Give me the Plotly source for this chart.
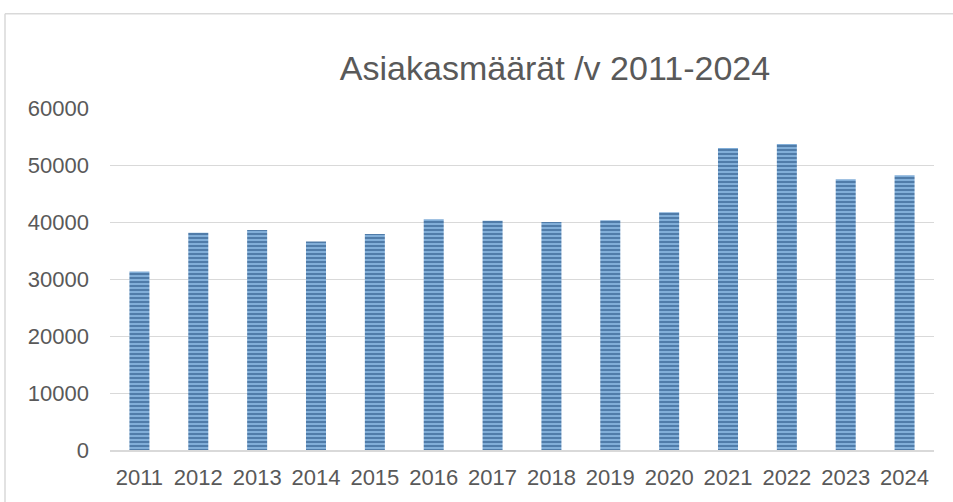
import plotly.graph_objects as go

years = ["2011", "2012", "2013", "2014", "2015", "2016", "2017",
         "2018", "2019", "2020", "2021", "2022", "2023", "2024"]
clients = [31300, 38100, 38600, 36600, 37900, 40500, 40200,
           40000, 40300, 41700, 53000, 53700, 47500, 48200]
y_ticks = [0, 10000, 20000, 30000, 40000, 50000, 60000]
y_labels = [str(v) for v in y_ticks]

W, H = 953, 502
L, R, T, B = 110, 19, 108, 49
pw, ph = W - L - R, H - T - B

def px(x):
    return (x - L) / pw

def py(y):
    return (H - B - y) / ph

fig = go.Figure(go.Bar(
    x=years, y=clients,
    marker=dict(
        color="#86b3dd",
        line=dict(width=0),
        pattern=dict(shape="-", fgcolor="#1a4576", size=4, solidity=0.55,
                     fillmode="overlay"),
    ),
    width=0.34,
))

border = dict(color="#d9d9d9", width=1.5)
fig.update_layout(
    width=W, height=H,
    margin=dict(l=L, r=R, t=T, b=B),
    paper_bgcolor="white", plot_bgcolor="white",
    font=dict(family="Liberation Sans, Arial, sans-serif", color="#595959", size=22),
    title=dict(text="Asiakasmäärät /v 2011-2024", x=555 / W, xanchor="center",
               y=1 - 68 / H, yanchor="middle", xref="container", yref="container",
               font=dict(size=34, color="#595959")),
    showlegend=False,
    xaxis=dict(showgrid=False, showline=True, linecolor="#d9d9d9", linewidth=1.5,
               ticks="", tickfont=dict(size=22, color="#595959"),
               ticklabelstandoff=7),
    yaxis=dict(range=[0, 60000], tickvals=y_ticks, ticktext=y_labels, showgrid=True,
               gridcolor="#d9d9d9", gridwidth=1, zeroline=False,
               showline=False, ticks="", ticklabelstandoff=20,
               tickfont=dict(size=22, color="#595959")),
    shapes=[
        dict(type="line", xref="paper", yref="paper",
             x0=px(5), x1=px(1200), y0=py(13), y1=py(13), line=border, layer="below"),
        dict(type="line", xref="paper", yref="paper",
             x0=px(5), x1=px(5), y0=py(13), y1=py(700), line=border, layer="below"),
    ],
)

fig.write_html("out.html", config={"displayModeBar": False},
               post_script="document.body.style.margin='0';"
                           "document.body.style.overflow='hidden';"
                           "document.documentElement.style.overflow='hidden';")
